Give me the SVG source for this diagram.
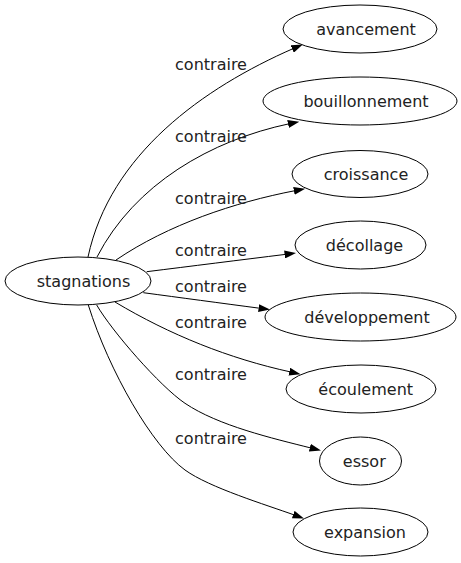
<svg xmlns="http://www.w3.org/2000/svg" width="461" height="563" viewBox="0 0 461 563">
<style>
  .node ellipse { fill: #ffffff; stroke: #000000; stroke-width: 1; }
  .node text { font-family: "DejaVu Sans", "Liberation Sans", sans-serif; font-size: 16px; fill: #222222; text-anchor: middle; }
  .edge path { fill: none; stroke: #000000; stroke-width: 1; marker-end: url(#arrow); }
  .edge text { font-family: "DejaVu Sans", "Liberation Sans", sans-serif; font-size: 16px; fill: #222222; text-anchor: middle; }
</style>
<defs>
  <marker id="arrow" viewBox="0 0 11.5 8" refX="1.5" refY="4" markerWidth="11.5" markerHeight="8" markerUnits="userSpaceOnUse" orient="auto">
    <path d="M0,0 L11.5,4 L0,8 Z" fill="#000000" stroke="none"/>
  </marker>
</defs>
<rect x="0" y="0" width="461" height="563" fill="#ffffff"/>
<g id="edges">
  <g class="edge" id="e-avancement">
    <path d="M88,257 C110,154.2 203.2,87.9 293.6,48.4"/>
    <text x="211" y="70">contraire</text>
  </g>
  <g class="edge" id="e-bouillonnement">
    <path d="M97,257 C134.6,184.1 211.1,140.2 289.5,123.7"/>
    <text x="211" y="142">contraire</text>
  </g>
  <g class="edge" id="e-croissance">
    <path d="M116,260 C168.2,224.6 234.2,202.4 295.4,190.6"/>
    <text x="211" y="204">contraire</text>
  </g>
  <g class="edge" id="e-decollage">
    <path d="M146.7,271.7 C190,266.3 240,260 286.1,254.3"/>
    <text x="211" y="256">contraire</text>
  </g>
  <g class="edge" id="e-developpement">
    <path d="M143.3,292.7 C180,297.6 220,303 260.1,308.3"/>
    <text x="211" y="292">contraire</text>
  </g>
  <g class="edge" id="e-ecoulement">
    <path d="M115,302 C169.9,334.8 228.9,358.5 290.8,372"/>
    <text x="211" y="328">contraire</text>
  </g>
  <g class="edge" id="e-essor">
    <path d="M96.7,305 C111.7,331 160.1,386.5 185,403.3 C218.2,425.7 272.5,438.3 311.3,448.1"/>
    <text x="211" y="380">contraire</text>
  </g>
  <g class="edge" id="e-expansion">
    <path d="M88.3,305 C109.3,371.8 152.6,446.5 185,470 C209.3,487.6 266.4,504.9 294.6,515.1"/>
    <text x="211" y="444">contraire</text>
  </g>
</g>
<g class="node" id="n-stagnations">
  <ellipse cx="78" cy="281" rx="73" ry="24"/>
  <text x="83.5" y="286.5">stagnations</text>
</g>
<g class="node" id="n-avancement">
  <ellipse cx="360" cy="29" rx="77" ry="24"/>
  <text x="366" y="35">avancement</text>
</g>
<g class="node" id="n-bouillonnement">
  <ellipse cx="360" cy="101" rx="97" ry="24"/>
  <text x="366" y="107">bouillonnement</text>
</g>
<g class="node" id="n-croissance">
  <ellipse cx="360" cy="174" rx="68" ry="23.5"/>
  <text x="366" y="180">croissance</text>
</g>
<g class="node" id="n-decollage">
  <ellipse cx="360.5" cy="245" rx="65.5" ry="24"/>
  <text x="364.5" y="251">décollage</text>
</g>
<g class="node" id="n-developpement">
  <ellipse cx="360.5" cy="317" rx="95.5" ry="24"/>
  <text x="367" y="323">développement</text>
</g>
<g class="node" id="n-ecoulement">
  <ellipse cx="361" cy="389" rx="75" ry="24"/>
  <text x="365.7" y="395">écoulement</text>
</g>
<g class="node" id="n-essor">
  <ellipse cx="360.5" cy="461" rx="41" ry="24"/>
  <text x="364.3" y="467">essor</text>
</g>
<g class="node" id="n-expansion">
  <ellipse cx="360.5" cy="532" rx="67.5" ry="24"/>
  <text x="365" y="538">expansion</text>
</g>
</svg>
